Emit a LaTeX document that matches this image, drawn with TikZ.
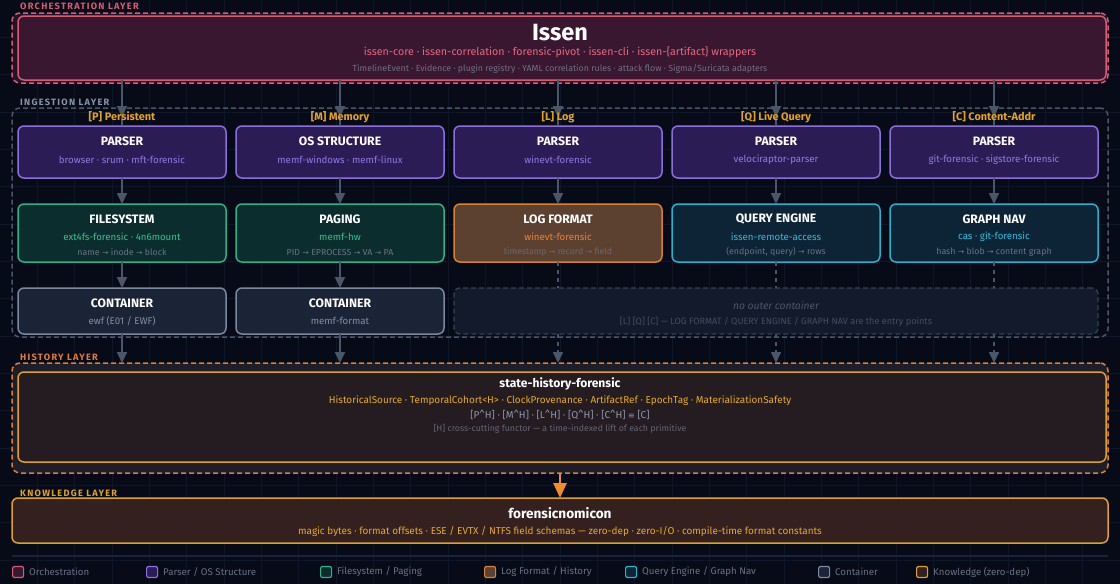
\documentclass[tikz,border=0pt]{standalone}
\usepackage{fontspec}
\setmainfont{Fira Sans}
\newfontfamily\dv{DejaVu Sans}
\newfontfamily\lblfont[LetterSpace=14]{Fira Sans}
\usetikzlibrary{arrows.meta,calc}
\definecolor{bgc}{HTML}{070B18}
\definecolor{gridc}{HTML}{0F1628}
\definecolor{orchc}{HTML}{D95A73}
\definecolor{orchfill}{HTML}{3A1731}
\definecolor{orchtext}{HTML}{E8677F}
\definecolor{mutetext}{HTML}{6A7284}
\definecolor{ingc}{HTML}{4A5567}
\definecolor{inglbl}{HTML}{8A93A6}
\definecolor{colc}{HTML}{E3A41C}
\definecolor{parfill}{HTML}{2B1C56}
\definecolor{parc}{HTML}{8B6FDF}
\definecolor{partext}{HTML}{9379E6}
\definecolor{fsfill}{HTML}{0C2D2E}
\definecolor{fsc}{HTML}{29B386}
\definecolor{fstext}{HTML}{33C291}
\definecolor{logfill}{HTML}{5C4131}
\definecolor{logc}{HTML}{D9822E}
\definecolor{logtext}{HTML}{E8823A}
\definecolor{qfill}{HTML}{0D2336}
\definecolor{qc}{HTML}{22B3CD}
\definecolor{qtext}{HTML}{2CC0DC}
\definecolor{cfill}{HTML}{1B2336}
\definecolor{cc}{HTML}{7B88A0}
\definecolor{ctext}{HTML}{848FA5}
\definecolor{nofill}{HTML}{121A2C}
\definecolor{noc}{HTML}{364155}
\definecolor{notext}{HTML}{4D5769}
\definecolor{histc}{HTML}{E07C34}
\definecolor{histouterfill}{HTML}{1E1D2A}
\definecolor{histfill}{HTML}{251C22}
\definecolor{goldc}{HTML}{E0A21F}
\definecolor{goldtext}{HTML}{E6AC24}
\definecolor{bracketc}{HTML}{8E97A9}
\definecolor{knowfill}{HTML}{33201F}
\definecolor{sepc}{HTML}{1B2334}
\definecolor{legtext}{HTML}{697184}
\definecolor{arrc}{HTML}{4A5769}
\definecolor{karrc}{HTML}{F28C28}
\newcommand{\ra}{{\dv\fontsize{7.8}{9}\selectfont →}}
\tikzset{
  bx/.style={rounded corners=6pt, line width=1.5pt, inner sep=0pt, outer sep=0pt, anchor=north west},
  layer/.style={rounded corners=8pt, line width=1.5pt, dash pattern=on 5pt off 3pt, inner sep=0pt, outer sep=0pt, anchor=north west},
  lbl/.style={anchor=west, inner sep=0pt, font=\lblfont\fontsize{9.2}{11}\selectfont\bfseries},
  ttl/.style={inner sep=0pt, text=white, font=\fontsize{12.2}{14}\selectfont\bfseries},
  sub/.style={inner sep=0pt, font=\fontsize{9.7}{11}\selectfont},
  third/.style={inner sep=0pt, text=mutetext, font=\fontsize{8.8}{10}\selectfont},
  coll/.style={inner sep=0pt, text=colc, font=\fontsize{10.9}{12}\selectfont\bfseries},
  arr/.style={draw=arrc, line width=2pt, -{Triangle[width=10pt,length=11pt]}},
  darr/.style={draw=arrc, line width=1.6pt, dash pattern=on 4pt off 4pt, -{Triangle[width=10pt,length=11pt]}},
  karr/.style={draw=karrc, line width=2.5pt, -{Triangle[width=13pt,length=15pt]}},
  legsq/.style={rounded corners=2pt, line width=1.2pt, minimum size=11pt, inner sep=0pt, anchor=west},
  legt/.style={anchor=west, inner sep=0pt, text=legtext, font=\fontsize{9.7}{11}\selectfont},
}
\begin{document}
\begin{tikzpicture}[x=1pt,y=-1pt]
\useasboundingbox (0,0) rectangle (1120,584);
\fill[bgc] (0,0) rectangle (1120,584);
\foreach \i in {1,...,29} \draw[gridc, line width=0.6pt] (\i*37.333,0) -- (\i*37.333,584);
\foreach \j in {1,...,15} \draw[gridc, line width=0.6pt] (0,\j*37.333) -- (1120,\j*37.333);

% ---------- orchestration ----------
\node[lbl, text=orchc] (orchlbl) at (20,6) {ORCHESTRATION LAYER};
\node[layer, draw=orchc, fill=orchfill!60!bgc, minimum width=1096pt, minimum height=70pt] (orchouter) at (12,13) {};
\node[bx, draw=orchc, fill=orchfill, minimum width=1088pt, minimum height=64pt] (issen) at (18,16) {};
\node[inner sep=0pt, text=white, font=\fontsize{23.5}{26}\selectfont\bfseries] (issent) at (560,33) {Issen};
\node[sub, text=orchtext, font=\fontsize{10.7}{12}\selectfont] (issens) at (560,52) {issen-core · issen-correlation · forensic-pivot · issen-cli · issen-\{artifact\} wrappers};
\node[third, font=\fontsize{8.8}{10}\selectfont] (issenth) at (560,69) {TimelineEvent · Evidence · plugin registry · YAML correlation rules · attack flow · Sigma/Suricata adapters};

% ---------- ingestion ----------
\node[lbl, text=inglbl] (inglbl) at (20,102) {INGESTION LAYER};
\node[layer, draw=ingc, minimum width=1096pt, minimum height=229pt] (ingouter) at (12,108) {};

% parsers
\node[bx, draw=parc, fill=parfill, minimum width=208pt, minimum height=52pt] (p1) at (18,126) {};
\node[bx, draw=parc, fill=parfill, minimum width=208pt, minimum height=52pt] (p2) at (236,126) {};
\node[bx, draw=parc, fill=parfill, minimum width=208pt, minimum height=52pt] (p3) at (454,126) {};
\node[bx, draw=parc, fill=parfill, minimum width=208pt, minimum height=52pt] (p4) at (672,126) {};
\node[bx, draw=parc, fill=parfill, minimum width=208pt, minimum height=52pt] (p5) at (890,126) {};

% column labels (arrows from Issen end at them)
\coordinate (e1) at (122,117);
\coordinate (e2) at (340,117);
\coordinate (e3) at (558,117);
\coordinate (e4) at (776,117);
\coordinate (e5) at (994,117);
\draw[arr] (issen.south -| e1) -- (e1);
\draw[arr] (issen.south -| e2) -- (e2);
\draw[arr] (issen.south -| e3) -- (e3);
\draw[arr] (issen.south -| e4) -- (e4);
\draw[arr] (issen.south -| e5) -- (e5);
\draw[arrc, line width=2pt] (e1) -- (p1.north);
\draw[arrc, line width=2pt] (e2) -- (p2.north);
\draw[arrc, line width=2pt] (e3) -- (p3.north);
\draw[arrc, line width=2pt] (e4) -- (p4.north);
\draw[arrc, line width=2pt] (e5) -- (p5.north);
\node[coll] (l1) at (122,117) {[P] Persistent};
\node[coll] (l2) at (340,117) {[M] Memory};
\node[coll] (l3) at (558,117) {[L] Log};
\node[coll] (l4) at (776,117) {[Q] Live Query};
\node[coll] (l5) at (994,117) {[C] Content-Addr};

\node[ttl] (p1t) at (122,141) {PARSER};
\node[sub, text=partext] (p1s) at (122,160) {browser · srum · mft-forensic};
\node[ttl] (p2t) at (340,141) {OS STRUCTURE};
\node[sub, text=partext] (p2s) at (340,160) {memf-windows · memf-linux};
\node[ttl] (p3t) at (558,141) {PARSER};
\node[sub, text=partext] (p3s) at (558,160) {winevt-forensic};
\node[ttl] (p4t) at (776,141) {PARSER};
\node[sub, text=partext] (p4s) at (776,160) {velociraptor-parser};
\node[ttl] (p5t) at (994,141) {PARSER};
\node[sub, text=partext] (p5s) at (994,160) {git-forensic · sigstore-forensic};

% row 2
\node[bx, draw=fsc, fill=fsfill, minimum width=208pt, minimum height=58pt] (r1) at (18,204) {};
\node[bx, draw=fsc, fill=fsfill, minimum width=208pt, minimum height=58pt] (r2) at (236,204) {};
\node[bx, draw=logc, fill=logfill, minimum width=208pt, minimum height=58pt] (r3) at (454,204) {};
\node[bx, draw=qc, fill=qfill, minimum width=208pt, minimum height=58pt] (r4) at (672,204) {};
\node[bx, draw=qc, fill=qfill, minimum width=208pt, minimum height=58pt] (r5) at (890,204) {};
\node[ttl] (r1t) at (122,219) {FILESYSTEM};
\node[sub, text=fstext] (r1s) at (122,237) {ext4fs-forensic · 4n6mount};
\node[third] (r1h) at (122,252) {name \ra{} inode \ra{} block};
\node[ttl] (r2t) at (340,219) {PAGING};
\node[sub, text=fstext] (r2s) at (340,237) {memf-hw};
\node[third] (r2h) at (340,252) {PID \ra{} EPROCESS \ra{} VA \ra{} PA};
\node[ttl] (r3t) at (558,219) {LOG FORMAT};
\node[sub, text=logtext] (r3s) at (558,237) {winevt-forensic};
\node[third, text=mutetext!80!logfill] (r3h) at (558,252) {timestamp \ra{} record \ra{} field};
\node[ttl] (r4t) at (776,219) {QUERY ENGINE};
\node[sub, text=qtext] (r4s) at (776,237) {issen-remote-access};
\node[third] (r4h) at (776,252) {(endpoint, query) \ra{} rows};
\node[ttl] (r5t) at (994,219) {GRAPH NAV};
\node[sub, text=qtext] (r5s) at (994,237) {cas · git-forensic};
\node[third] (r5h) at (994,252) {hash \ra{} blob \ra{} content graph};

% history outer (needed for arrow targets)
\node[lbl, text=histc] (histlbl) at (20,357) {HISTORY LAYER};
\node[layer, draw=histc, fill=histouterfill, minimum width=1096pt, minimum height=110pt] (histouter) at (12,363) {};
\node[bx, draw=goldc, fill=histfill, minimum width=1088pt, minimum height=90pt] (hist) at (18,372) {};

% dashed arrows (behind no-outer box)
\draw[darr] (r3.south) -- (r3.south |- histouter.north);
\draw[darr] (r4.south) -- (r4.south |- histouter.north);
\draw[darr] (r5.south) -- (r5.south |- histouter.north);

% row 3
\node[bx, draw=cc, fill=cfill, minimum width=208pt, minimum height=46pt] (c1) at (18,288) {};
\node[bx, draw=cc, fill=cfill, minimum width=208pt, minimum height=46pt] (c2) at (236,288) {};
\node[bx, draw=noc, fill=nofill, dash pattern=on 5pt off 3pt, line width=1.3pt, minimum width=644pt, minimum height=46pt] (noc) at (454,288) {};
\node[ttl] (c1t) at (122,303) {CONTAINER};
\node[sub, text=ctext] (c1s) at (122,321) {ewf (E01 / EWF)};
\node[ttl] (c2t) at (340,303) {CONTAINER};
\node[sub, text=ctext] (c2s) at (340,321) {memf-format};
\node[inner sep=0pt, text=notext, font=\fontsize{10.3}{12}\selectfont\itshape] (not) at (776,306) {no outer container};
\node[inner sep=0pt, text=notext!85!nofill, font=\fontsize{9.1}{10}\selectfont] (nos) at (776,322) {[L] [Q] [C] — LOG FORMAT / QUERY ENGINE / GRAPH NAV are the entry points};

% solid arrows
\draw[arr] (p1.south) -- (r1.north);
\draw[arr] (p2.south) -- (r2.north);
\draw[arr] (p3.south) -- (r3.north);
\draw[arr] (p4.south) -- (r4.north);
\draw[arr] (p5.south) -- (r5.north);
\draw[arr] (r1.south) -- (c1.north);
\draw[arr] (r2.south) -- (c2.north);
\draw[arr] (c1.south) -- (c1.south |- histouter.north);
\draw[arr] (c2.south) -- (c2.south |- histouter.north);

% history texts
\node[inner sep=0pt, text=white, font=\fontsize{12.1}{14}\selectfont\bfseries] (ht) at (560,384) {state-history-forensic};
\node[sub, text=goldtext, font=\fontsize{9.95}{11}\selectfont] (hs) at (560,401) {HistoricalSource · TemporalCohort<H> · ClockProvenance · ArtifactRef · EpochTag · MaterializationSafety};
\node[sub, text=bracketc, font=\fontsize{10}{11}\selectfont] (hb) at (560,415) {[P\^{}H] · [M\^{}H] · [L\^{}H] · [Q\^{}H] · [C\^{}H] {\dv\fontsize{8}{9}\selectfont ≡} [C]};
\node[third, text=mutetext!85!histfill] (hh) at (560,429) {[H] cross-cutting functor — a time-indexed lift of each primitive};

% knowledge
\node[lbl, text=goldc] (knowlbl) at (20,493) {KNOWLEDGE LAYER};
\node[bx, draw=goldc, fill=knowfill, minimum width=1096pt, minimum height=45pt] (know) at (12,498) {};
\node[inner sep=0pt, text=white, font=\fontsize{13.6}{15}\selectfont\bfseries] (kt) at (560,513) {forensicnomicon};
\node[sub, text=goldtext, font=\fontsize{9.95}{11}\selectfont] (ks) at (560,532) {magic bytes · format offsets · ESE / EVTX / NTFS field schemas — zero-dep · zero-I/O · compile-time format constants};
\draw[karr] (histouter.south) -- (know.north);

% separator & legend
\coordinate (sepa) at (12,556);
\coordinate (sepb) at (1108,556);
\draw[sepc, line width=1.5pt] (sepa) -- (sepb);
\node[legsq, draw=orchc, fill=orchfill] (lg1) at (12,572) {};
\node[legt] (lt1) at (29,572) {Orchestration};
\node[legsq, draw=parc, fill=parfill] (lg2) at (146,572) {};
\node[legt] (lt2) at (163,572) {Parser / OS Structure};
\node[legsq, draw=fsc, fill=fsfill] (lg3) at (320,572) {};
\node[legt] (lt3) at (337,572) {Filesystem / Paging};
\node[legsq, draw=logc, fill=logfill] (lg4) at (484,572) {};
\node[legt] (lt4) at (501,572) {Log Format / History};
\node[legsq, draw=qc, fill=qfill] (lg5) at (625,572) {};
\node[legt] (lt5) at (642,572) {Query Engine / Graph Nav};
\node[legsq, draw=cc, fill=cfill] (lg6) at (818,572) {};
\node[legt] (lt6) at (835,572) {Container};
\node[legsq, draw=goldc, fill=knowfill] (lg7) at (916,572) {};
\node[legt] (lt7) at (933,572) {Knowledge (zero-dep)};
\end{tikzpicture}
\end{document}
